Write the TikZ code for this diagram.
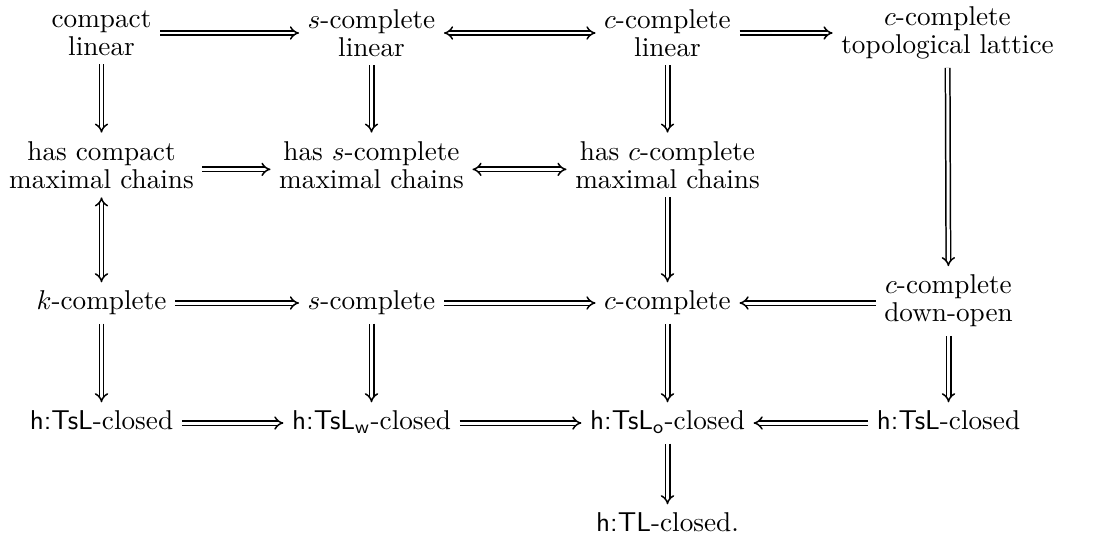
\documentclass[tikz,border=0pt]{standalone}
\usepackage{amsmath,amssymb}
\usepackage{tikz}
\usetikzlibrary{arrows.meta,positioning}

\begin{document}
\begin{tikzpicture}[
    x=0.3676pt, y=-0.3676pt, >=Implies,
    every node/.style={inner sep=3pt},
    one/.style={text height=1.6ex, text depth=0.45ex},
    two/.style={align=center, font=\linespread{0.86}\selectfont},
    every edge/.style={draw, double, double distance=1.1pt, line width=0.55pt, ->}
]
\useasboundingbox (0,0) rectangle (1096,535);

\node[two] (cl)  at (101.5,33) {compact\\linear};
\node[two] (sl)  at (371.5,33) {$s$-complete\\linear};
\node[two] (ccl) at (667.5,33) {$c$-complete\\linear};
\node[two] (ctl) at (947.5,33) {$c$-complete\\topological lattice};

\node[two] (hk) at (101.5,165) {has compact\\maximal chains};
\node[two] (hs) at (371.5,165) {has $s$-complete\\maximal chains};
\node[two] (hc) at (667.5,165) {has $c$-complete\\maximal chains};

\node[one] (k)   at (101.5,303) {$k$-complete};
\node[one] (s)   at (371.5,303) {$s$-complete};
\node[one] (c)   at (667.5,303) {$c$-complete};
\node[two] (cdo) at (948.5,301) {$c$-complete\\down-open};

\node[one] (tk) at (101.5,423) {\textsf{h:TsL}-closed};
\node[one] (tw) at (371.5,423) {\textsf{h:TsL}$_{\mathsf{w}}$-closed};
\node[one] (to) at (667.5,423) {\textsf{h:TsL}$_{\mathsf{o}}$-closed};
\node[one] (tr) at (948.5,423) {\textsf{h:TsL}-closed};

\node[one] (tl) at (667.5,525) {\textsf{h:TL}-closed.};

\path
 (cl) edge (sl)
      edge (hk)
 (sl) edge[<->] (ccl)
      edge (hs)
 (ccl) edge (ctl)
       edge (hc)
 (ctl) edge (cdo)
 ([yshift=-1.6pt]hk.east) edge ([yshift=-1.6pt]hs.west)
 ([yshift=-1.6pt]hs.east) edge[<->] ([yshift=-1.6pt]hc.west)
 (hk) edge[<->] (k)
 (hc) edge (c)
 (k) edge (s)
     edge (tk)
 (s) edge (c)
     edge (tw)
 (cdo.west |- c) edge (c)
 (c) edge (to)
 (cdo) edge (tr)
 (tk) edge (tw)
 (tw) edge (to)
 (tr) edge (to)
 (to) edge (tl);
\end{tikzpicture}
\end{document}
